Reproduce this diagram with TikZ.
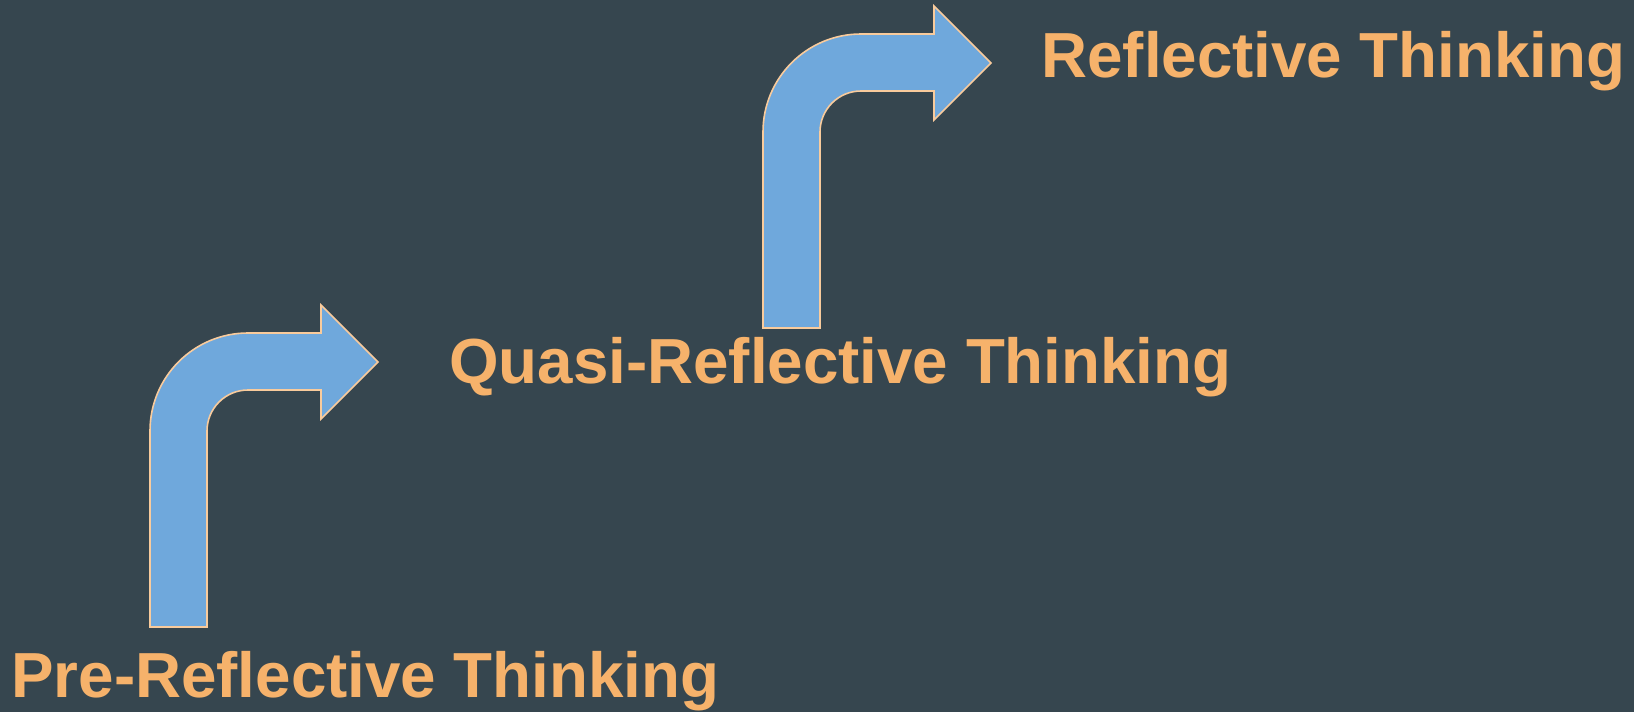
\documentclass[tikz,border=0pt]{standalone}
\usepackage{fontspec}
\setmainfont{Liberation Sans}
\definecolor{bgcol}{RGB}{54,70,79}
\definecolor{txtcol}{RGB}{246,178,107}
\definecolor{arrowfill}{RGB}{111,168,220}
\definecolor{arrowline}{RGB}{249,203,156}
\tikzset{
  bentarrow/.style={fill=arrowfill, draw=arrowline, line width=1.6pt, line join=miter},
  stagelabel/.style={text=txtcol, font=\fontsize{63.7}{70}\selectfont\bfseries, inner sep=0pt, anchor=base west}
}
\begin{document}
\begin{tikzpicture}[x=1pt,y=-1pt]
\fill[bgcol] (0,0) rectangle (1634,712);
\useasboundingbox (0,0) rectangle (1634,712);
% arrow 1
\draw[bentarrow] (150,627) -- (150,431) arc[start angle=180,end angle=270,radius=98]
  -- (321,333) -- (321,305) -- (378,362) -- (321,419) -- (321,390) -- (248,390)
  arc[start angle=270,end angle=180,radius=41] -- (207,627) -- cycle;
% arrow 2
\begin{scope}[shift={(613,-299)}]
\draw[bentarrow] (150,627) -- (150,431) arc[start angle=180,end angle=270,radius=98]
  -- (321,333) -- (321,305) -- (378,362) -- (321,419) -- (321,390) -- (248,390)
  arc[start angle=270,end angle=180,radius=41] -- (207,627) -- cycle;
\end{scope}
\node[stagelabel] (pre) at (11.2,697.3) {Pre-Reflective Thinking};
\node[stagelabel] (quasi) at (449,383.3) {Quasi-Reflective Thinking};
\node[stagelabel] (refl) at (1041.2,77.7) {Reflective Thinking};
\end{tikzpicture}
\end{document}
